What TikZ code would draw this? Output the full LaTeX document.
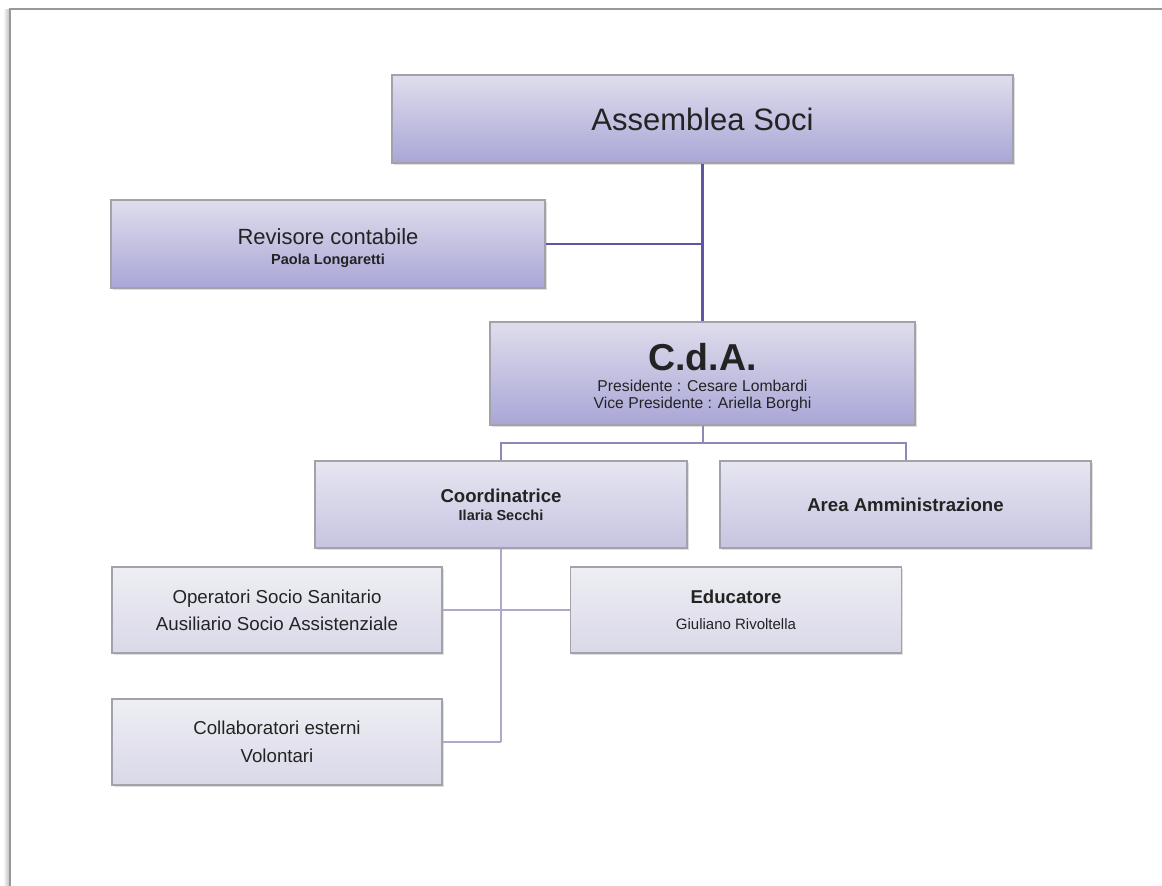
\documentclass[tikz,border=0pt]{standalone}
\usepackage{fontspec}
\setmainfont{Liberation Sans}
\usepackage{tikz}
\usetikzlibrary{positioning,shadows}

\definecolor{boardtop}{HTML}{DFDDEC}
\definecolor{boardbot}{HTML}{A9A6D7}
\definecolor{areatop}{HTML}{E7E6F1}
\definecolor{areabot}{HTML}{C6C4E1}
\definecolor{stafftop}{HTML}{EEEEF4}
\definecolor{staffbot}{HTML}{D9D8E8}
\definecolor{boxedge}{HTML}{A2A2AA}
\definecolor{lineA}{HTML}{5E56A2}
\definecolor{lineB}{HTML}{8C88BA}
\definecolor{lineC}{HTML}{ACA9CD}
\definecolor{inkgray}{HTML}{232323}

\newcommand{\pts}[2]{\fontsize{#1}{#2}\selectfont}

\begin{document}
\begin{tikzpicture}[x=1pt,y=-1pt,semithick]

  %\tikzstyle{orgbox}=[draw,rectangle]
  \tikzstyle{orgbox}=[rectangle,draw=boxedge,line width=1.2pt,inner sep=0pt,
                      align=center,text=inkgray,
                      drop shadow={shadow xshift=1.5pt,shadow yshift=-2pt,opacity=0.25}]
  \tikzstyle{boardbox}=[orgbox,top color=boardtop,bottom color=boardbot]
  \tikzstyle{areabox}=[orgbox,top color=areatop,bottom color=areabot]
  \tikzstyle{staffbox}=[orgbox,top color=stafftop,bottom color=staffbot]
  \tikzstyle{mainline}=[draw=lineA,line width=2.4pt]
  \tikzstyle{subline}=[draw=lineB,line width=2pt]
  \tikzstyle{staffline}=[draw=lineC,line width=2pt]

  \useasboundingbox (0,0) rectangle (1162,886);

  % page edge
  \shade[left color=white,right color=black!28] (3,9) rectangle (10,886);
  \draw[black!40,line width=1.5pt] (10,886) -- (10,9) -- (1162,9);

  \node[boardbox,minimum width=621pt,minimum height=88pt,font=\pts{31}{37}]
    (asm) at (702.5,119) {Assemblea Soci};
  \node[boardbox,minimum width=434pt,minimum height=88pt,font=\pts{22}{19.5}]
    (rev) at (328,244) {\rule{0pt}{24pt}Revisore contabile\\
                        \pts{14.5}{19.5}\bfseries Paola Longaretti};
  \node[boardbox,minimum width=425pt,minimum height=103pt,font=\pts{15.7}{17}]
    (cda) [below of=asm, node distance=254.5pt]
    {\rule{0pt}{35pt}\pts{37.5}{17}\bfseries C.d.A.\\[4pt]
     Presidente : Cesare Lombardi\\
     Vice Presidente : Ariella Borghi};

  \node[areabox,minimum width=372pt,minimum height=87pt,font=\pts{18.6}{18}\bfseries]
    (coord) at (501,504.5) {Coordinatrice\\
                            \pts{14.5}{18}Ilaria Secchi};
  \node[areabox,minimum width=371pt,minimum height=87pt,font=\pts{18.6}{22}\bfseries]
    (amm) [right of=coord, node distance=404.5pt]
    {Area Amministrazione};

  \node[staffbox,minimum width=330pt,minimum height=86pt,font=\pts{18.7}{27}]
    (oss) at (277,610) {Operatori Socio Sanitario\\
                        Ausiliario Socio Assistenziale};
  \node[staffbox,minimum width=331pt,minimum height=86pt,font=\pts{18.6}{26}]
    (edu) at (736,610) {\bfseries Educatore\\
                        \pts{15}{26}Giuliano Rivoltella};
  \node[staffbox,minimum width=330pt,minimum height=86pt,font=\pts{18.7}{28}]
    (coll) [below of=oss, node distance=132pt]
    {Collaboratori esterni\\Volontari};

  \coordinate (split) at (cda.center |- 0,443);

  \path[mainline] (asm) -- (cda)
                  (rev) -- (rev -| asm.south);
  \path[subline]  (cda) -- (split)
                  (coord.north) |- (split) -| (amm.north);
  \path[staffline] (coord.south) -- (coord.south |- coll)
                   (oss) -- (edu)
                   (coll) -- (coll -| coord.south);

\end{tikzpicture}
\end{document}
